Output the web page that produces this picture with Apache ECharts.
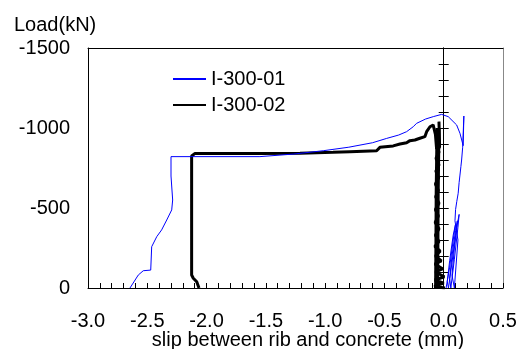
<!DOCTYPE html>
<html>
<head>
<meta charset="utf-8">
<script src="https://cdn.jsdelivr.net/npm/echarts@6/dist/echarts.min.js"></script>
<style>html,body{margin:0;padding:0;background:#fff}#c{width:519px;height:349px}</style>
</head>
<body>
<div id="c"></div>
<script>
var seriesNames = ['I-300-01', 'I-300-02'];
var xTickValues = [-3.0, -2.5, -2.0, -1.5, -1.0, -0.5, 0.0, 0.5];
var yTickValues = [0, -500, -1000, -1500];
// slip (mm), load (kN)
var blueData = [
  [0.02,0],[0.05,-130],[0.08,-300],[0.10,-400],[0.08,-330],[0.05,-170],[0.03,-40],[0.04,0],
  [0.07,-160],[0.10,-330],[0.115,-420],[0.10,-360],[0.07,-200],[0.05,-60],[0.06,0],[0.09,-180],
  [0.12,-380],[0.13,-460],[0.115,-400],[0.09,-250],[0.07,-80],[0.09,0],[0.11,-200],[0.12,-300],
  [0.095,-420],[0.10,-490],[0.11,-540],[0.122,-592],[0.13,-660],[0.137,-706],[0.145,-760],
  [0.151,-800],[0.16,-880],[0.17,-1075],[0.164,-890],[0.151,-894],[0.137,-967],[0.109,-1019],
  [0.094,-1029],[0.038,-1071],[-0.018,-1085],[-0.088,-1071],[-0.153,-1056],[-0.229,-1029],
  [-0.257,-1008],[-0.313,-977],[-0.38,-956],[-0.481,-935],[-0.60,-908],[-0.80,-880],
  [-1.016,-858],[-1.269,-837],[-1.55,-821],[-2.30,-821],[-2.30,-700],[-2.286,-550],
  [-2.294,-488],[-2.336,-425],[-2.379,-363],[-2.42,-321],[-2.463,-258],[-2.471,-112],
  [-2.534,-108],[-2.576,-81],[-2.646,0]
];
var blackData = [
  [0.01,0],[-0.08,-10],[0.0,-30],[-0.075,-50],[0.005,-70],[-0.07,-100],[-0.01,-120],
  [-0.075,-150],[-0.02,-170],[-0.07,-200],[-0.03,-230],[-0.075,-260],[-0.04,-290],
  [-0.07,-330],[-0.04,-370],[-0.072,-410],[-0.045,-450],[-0.07,-490],[-0.04,-530],
  [-0.068,-570],[-0.045,-610],[-0.07,-650],[-0.042,-690],[-0.066,-730],[-0.04,-770],
  [-0.065,-810],[-0.04,-850],[-0.06,-880],[-0.035,-900],[-0.04,-1040],[-0.03,-1040],
  [-0.035,-880],[-0.06,-870],[-0.07,-960],[-0.089,-1019],[-0.116,-1008],[-0.144,-977],
  [-0.159,-946],[-0.201,-936],[-0.243,-925],[-0.285,-921],[-0.313,-908],[-0.369,-900],
  [-0.426,-888],[-0.538,-879],[-0.566,-858],[-0.791,-852],[-0.934,-848],[-1.212,-842],
  [-1.55,-840],[-2.10,-840],[-2.126,-825],[-2.126,-81],[-2.112,-61],[-2.083,-39],[-2.064,0]
];
// dense core of the I-300-02 unloading/reloading column
var blackCoreData = [[-0.06,-5],[-0.057,-300],[-0.055,-600],[-0.05,-880],[-0.048,-1000]];

var font = 'Arial, "Liberation Sans", sans-serif';
var chart = echarts.init(document.getElementById('c'), null, {renderer: 'canvas'});
var yBase = {type: 'value', min: -1500, max: 0, inverse: true, splitLine: {show: false}};
chart.setOption({
  animation: false,
  backgroundColor: '#fff',
  title: {text: 'Load(kN)', left: 9, top: 10,
    textStyle: {fontSize: 20, fontWeight: 'normal', color: '#000', fontFamily: font}},
  legend: {
    orient: 'vertical', left: 167, top: 64, itemWidth: 33, itemHeight: 14, itemGap: 6,
    itemStyle: {opacity: 0},
    textStyle: {fontSize: 20, color: '#000', fontFamily: font},
    data: seriesNames
  },
  grid: {left: 88, right: 16, top: 48, bottom: 61, containLabel: false, outerBoundsMode: 'none'},
  xAxis: [
    {type: 'value', min: -3, max: 0.5, interval: 0.5, position: 'bottom',
     axisLine: {onZero: false, lineStyle: {color: '#000', width: 1}},
     axisTick: {show: true, inside: true, length: 5, lineStyle: {color: '#000'}},
     minorTick: {show: true, splitNumber: 5, length: 5, lineStyle: {color: '#000'}},
     splitLine: {show: false},
     axisLabel: {fontSize: 20, color: '#000', fontFamily: font, margin: 23,
       formatter: function (v) { return v.toFixed(1); }},
     name: 'slip between rib and concrete (mm)', nameLocation: 'middle', nameGap: 42,
     nameMoveOverlap: false,
     nameTextStyle: {fontSize: 20, color: '#000', fontFamily: font, padding: [0, 0, 0, 25]}},
    {type: 'value', min: -3, max: 0.5, position: 'top',
     axisLine: {onZero: false, lineStyle: {color: '#000', width: 1}},
     axisTick: {show: false}, axisLabel: {show: false}, splitLine: {show: false}}
  ],
  yAxis: [
    Object.assign({}, yBase, {position: 'left', interval: 500,
      axisLine: {show: true, onZero: false, lineStyle: {color: '#000'}},
      axisTick: {show: false},
      axisLabel: {fontSize: 20, color: '#000', fontFamily: font, margin: 18,
        formatter: function (v) { return String(v); }}}),
    Object.assign({}, yBase, {position: 'left', interval: 100,
      axisLine: {show: true, onZero: true, lineStyle: {color: '#000'}},
      axisTick: {show: true, inside: false, length: 5, lineStyle: {color: '#000'}},
      axisLabel: {show: false}}),
    Object.assign({}, yBase, {position: 'left', interval: 100,
      axisLine: {show: true, onZero: true, lineStyle: {color: '#000'}},
      axisTick: {show: true, inside: true, length: 5, lineStyle: {color: '#000'}},
      axisLabel: {show: false}}),
    Object.assign({}, yBase, {position: 'right',
      axisLine: {show: true, onZero: false, lineStyle: {color: '#888'}},
      axisTick: {show: false}, axisLabel: {show: false}})
  ],
  series: [
    {name: seriesNames[0], type: 'line', data: blueData, showSymbol: false, symbol: 'none',
     lineStyle: {color: '#0000ff', width: 1}, itemStyle: {color: '#0000ff'}, z: 3},
    {name: seriesNames[1], type: 'line', data: blackData, showSymbol: false, symbol: 'none',
     lineStyle: {color: '#000', width: 3}, itemStyle: {color: '#000'}, z: 2},
    {name: seriesNames[1], type: 'line', data: blackCoreData, showSymbol: false, symbol: 'none',
     lineStyle: {color: '#000', width: 5}, itemStyle: {color: '#000'}, z: 2}
  ]
});
</script>
</body>
</html>
